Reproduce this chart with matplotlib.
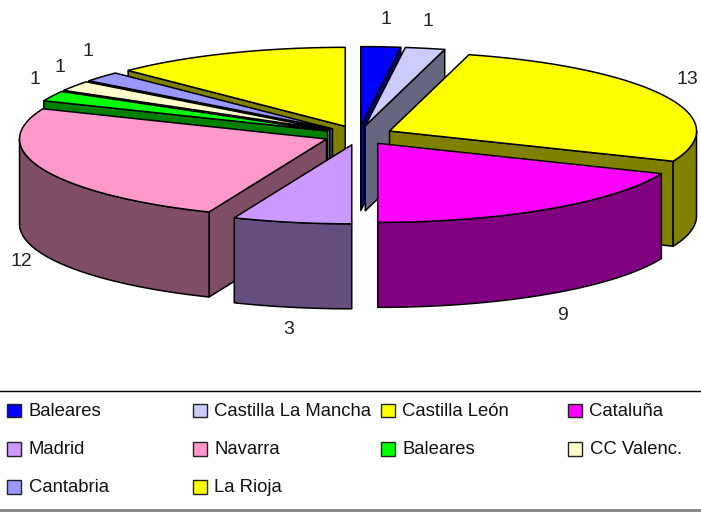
import numpy as np
import matplotlib
matplotlib.use('Agg')
import matplotlib.pyplot as plt
from matplotlib.patches import Polygon, Rectangle

plt.rcParams['font.family'] = ['Liberation Sans', 'DejaVu Sans']

# data
names = ['Baleares', 'Castilla La Mancha', 'Castilla León', 'Cataluña', 'Madrid',
         'Navarra', 'Baleares', 'CC Valenc.', 'Cantabria', 'La Rioja']
values = [1, 1, 13, 9, 3, 12, 1, 1, 1, 6]
shown = ['1', '1', '13', '9', '3', '12', '1', '1', '1', '']
colors = ['#0000FF', '#CCCCFF', '#FFFF00', '#FF00FF', '#CC99FF',
          '#FF99CC', '#00FF00', '#FFFFCC', '#9999FF', '#FFFF00']

# layout in pixels
W, H = 701, 519
cx, cy = 358.5, 135.3
rx, ry = 307, 79
ex, ey = 34.6, 9.7
depth = 85
label_pos = [(386, 19), (428, 21), (687, 80), (563, 315), (289, 330),
             (21, 261), (35, 79), (60, 67), (88, 52), None]
legend_x = [7, 193, 381, 568]
legend_base = [416, 454.5, 492.5]

# back to front
draw_order = [0, 1, 9, 8, 7, 6, 5, 2, 4, 3]

fig = plt.figure(figsize=(W / 100, H / 100), dpi=100)
ax = fig.add_axes([0, 0, 1, 1])
ax.set_xlim(0, W)
ax.set_ylim(H, 0)
ax.axis('off')


def dark(c):
    return tuple(v * 0.5 for v in matplotlib.colors.to_rgb(c))


def draw_slice(s, e, col):
    mid = (s + e) / 2
    ax0 = cx + ex * np.sin(mid)
    ay0 = cy - ey * np.cos(mid)
    t = np.linspace(s, e, 80)
    arc = np.column_stack([ax0 + rx * np.sin(t), ay0 - ry * np.cos(t)])
    side = dark(col)
    kw = dict(edgecolor='black', linewidth=1.1, joinstyle='round')

    # cut faces
    for ang, visible in ((s, np.pi < s < 2 * np.pi), (e, 0 < e < np.pi)):
        if visible:
            px = ax0 + rx * np.sin(ang)
            py = ay0 - ry * np.cos(ang)
            ax.add_patch(Polygon([(ax0, ay0), (px, py), (px, py + depth), (ax0, ay0 + depth)],
                                 facecolor=side, **kw))

    # outer wall, front half only
    a = max(s, np.pi / 2)
    b = min(e, 3 * np.pi / 2)
    if a < b:
        u = np.linspace(a, b, 80)
        wx = ax0 + rx * np.sin(u)
        wy = ay0 - ry * np.cos(u)
        wall = np.vstack([np.column_stack([wx, wy]),
                          np.column_stack([wx[::-1], wy[::-1] + depth])])
        ax.add_patch(Polygon(wall, facecolor=side, **kw))

    # top
    ax.add_patch(Polygon(np.vstack([[ax0, ay0], arc]), facecolor=col, **kw))


edges = np.cumsum([0] + values) / sum(values) * 2 * np.pi
for i in draw_order:
    draw_slice(edges[i], edges[i + 1], colors[i])

for txt, pos in zip(shown, label_pos):
    if pos is not None:
        ax.text(pos[0], pos[1], txt, fontsize=14, color='#222222', ha='center', va='center')

# legend
ax.plot([0, W], [390.5, 390.5], color='black', linewidth=1)
ax.plot([0, W], [510, 510], color='#808080', linewidth=2)
for i, name in enumerate(names):
    lx = legend_x[i % 4]
    base = legend_base[i // 4]
    ax.add_patch(Rectangle((lx, base - 12.5), 14, 13.5, facecolor=colors[i], edgecolor='#222222', linewidth=1))
    ax.text(lx + 21.5, base, name, fontsize=13.3, color='#111111', ha='left', va='baseline')

fig.savefig('out.png', dpi=100, facecolor='white')
